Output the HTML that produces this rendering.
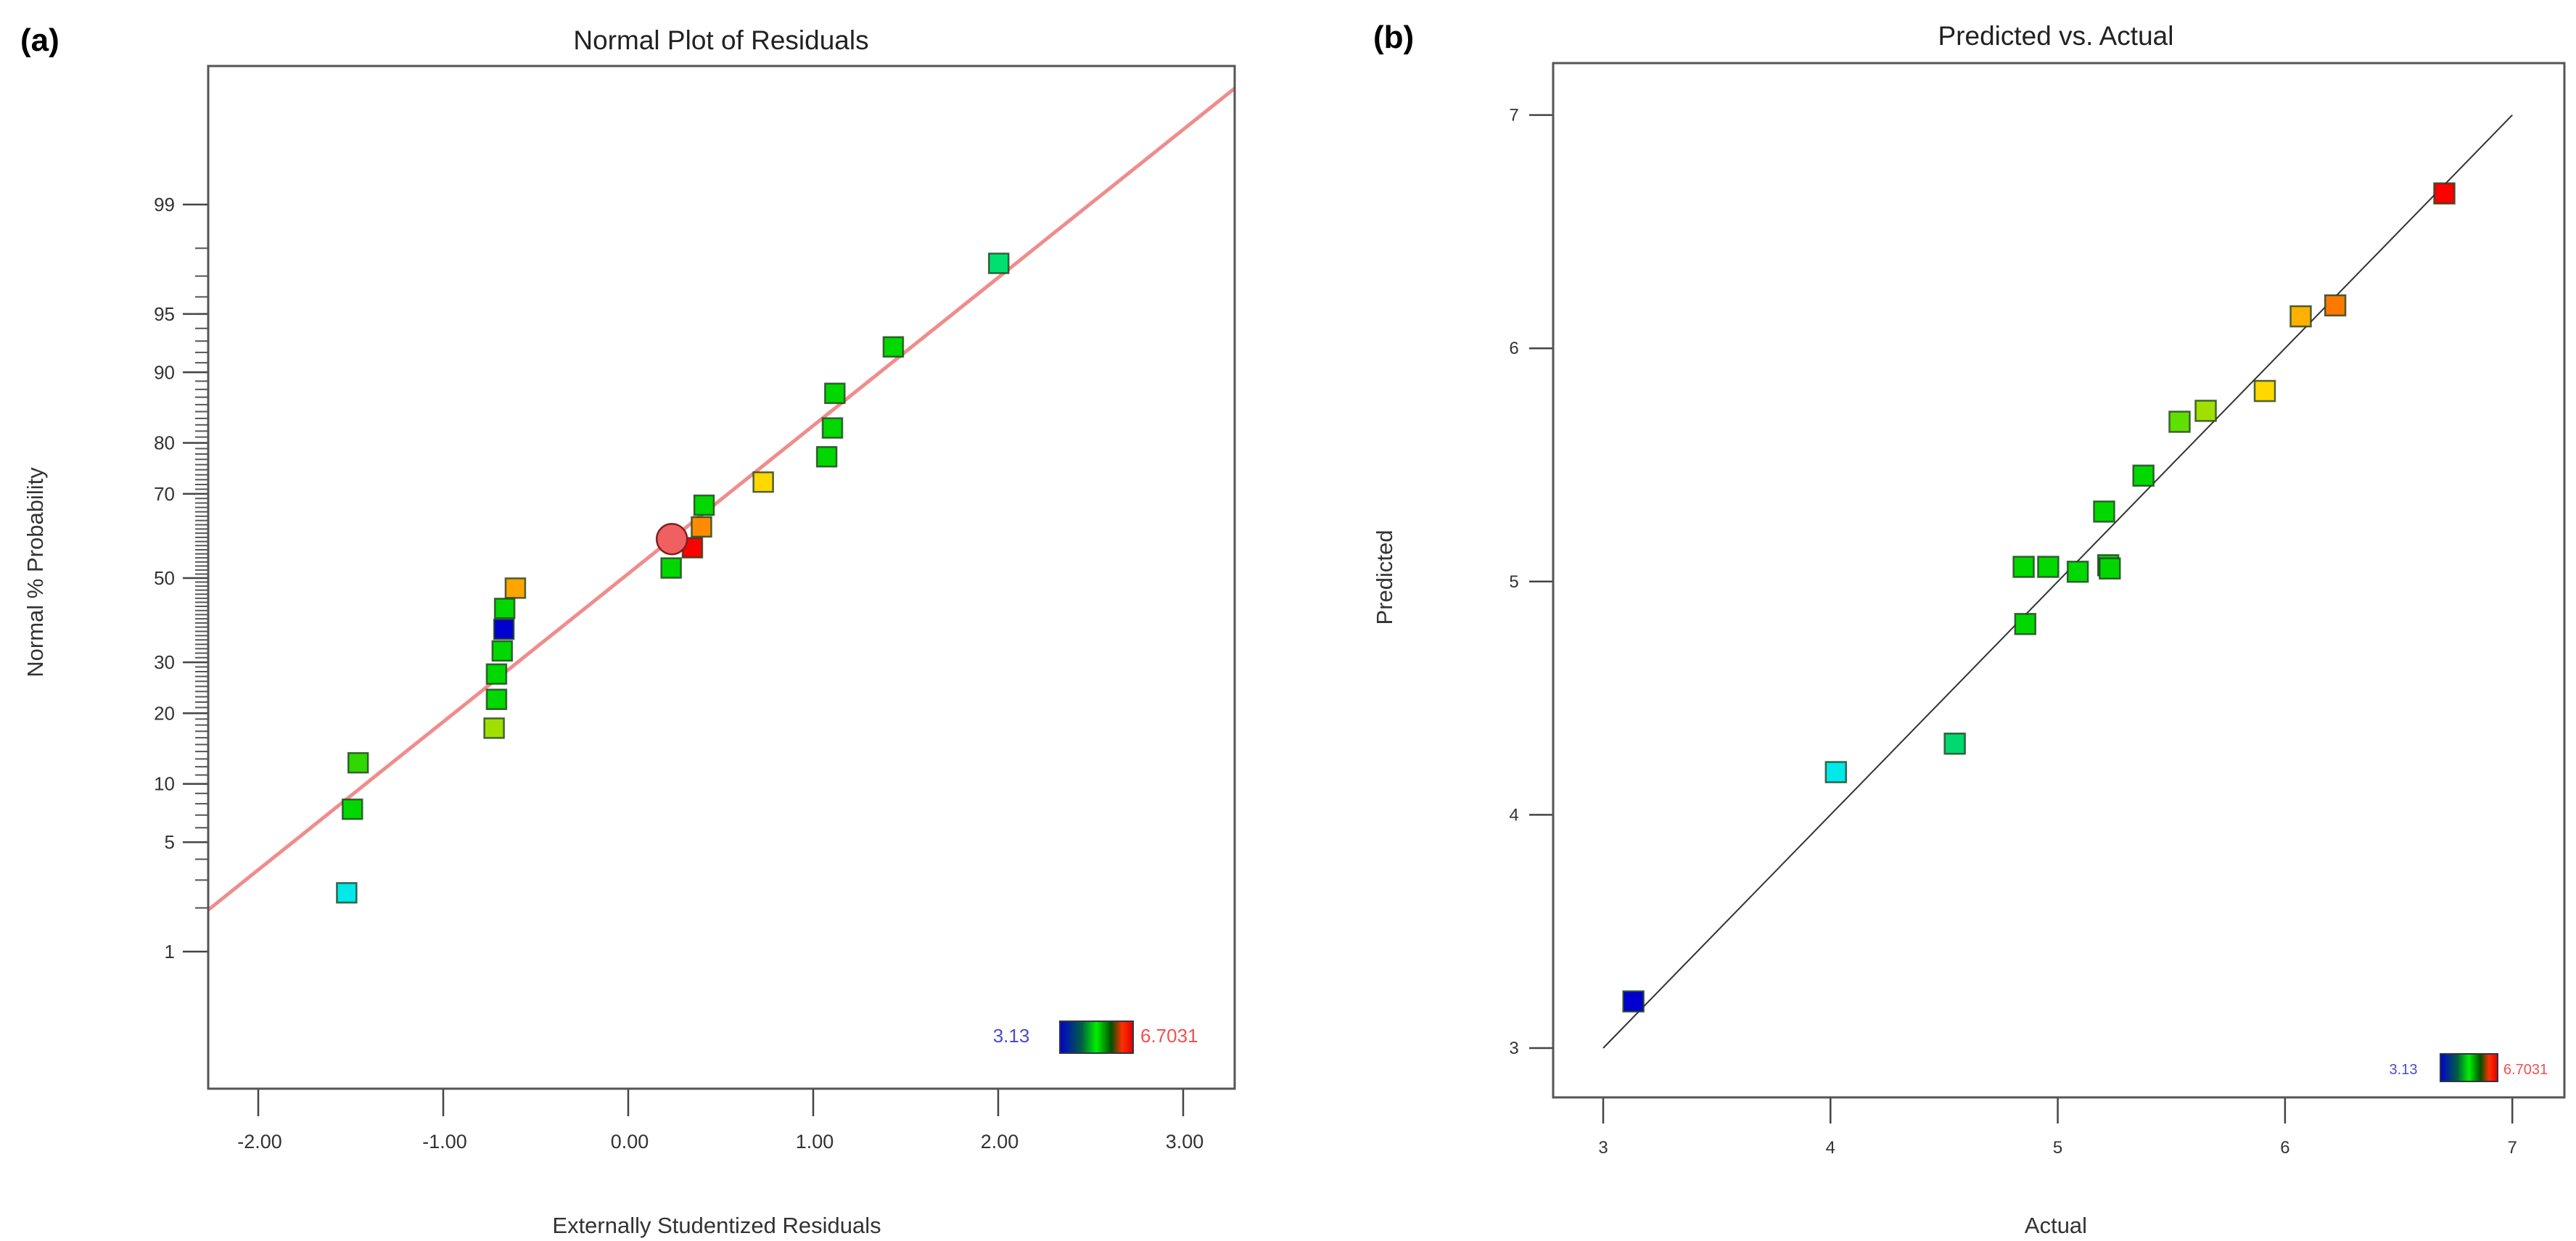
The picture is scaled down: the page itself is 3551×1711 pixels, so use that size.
<!DOCTYPE html>
<html><head><meta charset="utf-8"><style>
html,body{margin:0;padding:0;background:#fff;}
svg{display:block;font-family:"Liberation Sans","DejaVu Sans",sans-serif;}
</style></head><body>
<svg id="chart" width="3551" height="1711" viewBox="0 0 3551 1711" xmlns="http://www.w3.org/2000/svg">
<defs>
<linearGradient id="cbar" x1="0" x2="1" y1="0" y2="0">
<stop offset="0" stop-color="#0000d0"/><stop offset="0.3" stop-color="#006040"/><stop offset="0.5" stop-color="#00f000"/><stop offset="0.7" stop-color="#005000"/><stop offset="0.85" stop-color="#ff3000"/><stop offset="1" stop-color="#e00000"/>
</linearGradient>
</defs>
<g id="pa"></g>
<g id="pb"></g>
</svg>
<script>
// ---- Panel (a) data ----
const residX = [2.003,1.433,1.117,1.104,1.073,0.730,0.410,0.396,0.347,0.232,-0.610,-0.668,-0.672,-0.681,-0.712,-0.712,-0.725,-1.460,-1.491,-1.522];
const residP = [97.5,92.5,87.5,82.5,77.5,72.5,67.5,62.5,57.5,52.5,47.5,42.5,37.5,32.5,27.5,22.5,17.5,12.5,7.5,2.5];
const residColor = ["#00e070","#00d800","#00d800","#00d800","#00d800","#ffd800","#00d800","#ff8c00","#ff0000","#00d800","#ffa500","#00d800","#0000d0","#00d800","#00d800","#00d800","#a0e000","#30d800","#00d800","#00e8e8"];
const circleX = [0.236];
const circleP = [59.6];
const xTicksA = [-2,-1,0,1,2,3];
const xTickLabelsA = ["-2.00","-1.00","0.00","1.00","2.00","3.00"];
const yTicksA = [1,5,10,20,30,50,70,80,90,95,99];
const lineSlope = [0.922];
const lineIntercept = [0.027];
// ---- Panel (b) data ----
const actual = [3.133,4.024,4.547,4.857,4.850,4.958,5.088,5.222,5.229,5.204,5.377,5.536,5.651,5.911,6.069,6.221,6.701];
const predicted = [3.20,4.183,4.305,4.818,5.063,5.063,5.042,5.070,5.056,5.30,5.454,5.685,5.732,5.817,6.137,6.184,6.664];
const predColor = ["#0000d0","#00e8e8","#00d870","#00d800","#00d800","#00d800","#00d800","#00d800","#00d800","#00d800","#00d800","#60e000","#a0e000","#ffd800","#ffb000","#ff7800","#ff0000"];
const xTicksB = [3,4,5,6,7];
const yTicksB = [3,4,5,6,7];
const legendMin = ["3.13"], legendMax = ["6.7031"];

const NS="http://www.w3.org/2000/svg";
function mk(parent,tag,attrs,text){const e=document.createElementNS(NS,tag);for(const k in attrs)e.setAttribute(k,attrs[k]);if(text!==undefined)e.textContent=text;parent.appendChild(e);return e;}
function probit(p){ // inverse normal CDF (Acklam)
 const a=[-39.69683028665376,220.9460984245205,-275.9285104469687,138.3577518672690,-30.66479806614716,2.506628277459239];
 const b=[-54.47609879822406,161.5858368580409,-155.6989798598866,66.80131188771972,-13.28068155288572];
 const c=[-0.007784894002430293,-0.3223964580411365,-2.400758277161838,-2.549732539343734,4.374664141464968,2.938163982698783];
 const d=[0.007784695709041462,0.3224671290700398,2.445134137142996,3.754408661907416];
 const pl=0.02425;let q,r;
 if(p<pl){q=Math.sqrt(-2*Math.log(p));return (((((c[0]*q+c[1])*q+c[2])*q+c[3])*q+c[4])*q+c[5])/((((d[0]*q+d[1])*q+d[2])*q+d[3])*q+1);}
 if(p>1-pl){q=Math.sqrt(-2*Math.log(1-p));return -(((((c[0]*q+c[1])*q+c[2])*q+c[3])*q+c[4])*q+c[5])/((((d[0]*q+d[1])*q+d[2])*q+d[3])*q+1);}
 q=p-0.5;r=q*q;return (((((a[0]*r+a[1])*r+a[2])*r+a[3])*r+a[4])*r+a[5])*q/(((((b[0]*r+b[1])*r+b[2])*r+b[3])*r+b[4])*r+1);
}
// ===== Panel A =====
const A={L:287,R:1702,T:91,B:1501};
const xA=v=>866+v*255;
const zA=z=>797-z*221.4;
const yA=p=>zA(probit(p/100));
const ga=document.getElementById('pa');
let t;
t=mk(ga,'text',{x:28,y:70,'font-size':44,'font-weight':'bold',fill:'#000'},'(a)');


t=mk(ga,'text',{x:994,y:68,'font-size':37,'text-anchor':'middle',fill:'#222'},'Normal Plot of Residuals');


// clip
mk(mk(ga,'clipPath',{id:'clipA'}),'rect',{x:A.L,y:A.T,width:A.R-A.L,height:A.B-A.T});
// minor y ticks
for(let p=1;p<=99;p++){
 t=mk(ga,'line',{x1:269,x2:A.L,y1:yA(p),y2:yA(p),stroke:'#555','stroke-width':2});
 
 
}
yTicksA.forEach(p=>{
 t=mk(ga,'line',{x1:252,x2:A.L,y1:yA(p),y2:yA(p),stroke:'#444','stroke-width':2.5});
 
 
 t=mk(ga,'text',{x:241,y:yA(p)+9,'font-size':26,'text-anchor':'end',fill:'#333'},String(p));
 
 
});
xTicksA.forEach((v,i)=>{
 t=mk(ga,'line',{x1:xA(v),x2:xA(v),y1:A.B,y2:A.B+38,stroke:'#444','stroke-width':2.5});
 
 
 t=mk(ga,'text',{x:xA(v)+2,y:A.B+82,'font-size':27,'text-anchor':'middle',fill:'#333'},xTickLabelsA[i]);
 
 
});
// fit line
const lg=mk(ga,'g',{'clip-path':'url(#clipA)'});
const xl0=(A.L-866)/255, xl1=(A.R-866)/255;
t=mk(lg,'line',{x1:A.L,y1:zA(lineSlope[0]*xl0+lineIntercept[0]),x2:A.R,y2:zA(lineSlope[0]*xl1+lineIntercept[0]),stroke:'#f08c8c','stroke-width':5});


residX.forEach((v,i)=>{
 const s=27;
 t=mk(ga,'rect',{x:xA(v)-s/2,y:yA(residP[i])-s/2,width:s,height:s,fill:residColor[i],stroke:'#204020','stroke-width':2.5,'stroke-opacity':0.8});
 
 
});
circleX.forEach((v,i)=>{
 t=mk(ga,'circle',{cx:xA(v),cy:yA(circleP[i]),r:21,fill:'#f06060',stroke:'#802020','stroke-width':2.5});
 
 
});
t=mk(ga,'rect',{x:A.L,y:A.T,width:A.R-A.L,height:A.B-A.T,fill:'none',stroke:'#555','stroke-width':3});


t=mk(ga,'text',{x:1394,y:1437,'font-size':26,'text-anchor':'middle',fill:'#4a4ad0'},legendMin[0]);


t=mk(ga,'rect',{x:1461,y:1408,width:101,height:44,fill:'url(#cbar)',stroke:'#334','stroke-width':2});


t=mk(ga,'text',{x:1572,y:1437,'font-size':26,fill:'#f05050'},legendMax[0]);


t=mk(ga,'text',{x:48,y:789,'font-size':31,'text-anchor':'middle',fill:'#333',transform:'rotate(-90 48 789)',dy:'0.35em'},'Normal % Probability');


t=mk(ga,'text',{x:988,y:1700,'font-size':31,'text-anchor':'middle',fill:'#333'},'Externally Studentized Residuals');



// ===== Panel B =====
const Bx={L:2141,R:3535,T:87,B:1513};
const xB=v=>2210+(v-3)*313.3;
const yB=v=>1445-(v-3)*321.6;
const gb=document.getElementById('pb');
t=mk(gb,'text',{x:1893,y:66,'font-size':44,'font-weight':'bold',fill:'#000'},'(b)');


t=mk(gb,'text',{x:2834,y:62,'font-size':37,'text-anchor':'middle',fill:'#222'},'Predicted vs. Actual');


yTicksB.forEach(v=>{
 t=mk(gb,'line',{x1:2108,x2:Bx.L,y1:yB(v),y2:yB(v),stroke:'#444','stroke-width':2.5});
 
 
 t=mk(gb,'text',{x:2087,y:yB(v)+8,'font-size':24,'text-anchor':'middle',fill:'#333'},String(v));
 
 
});
xTicksB.forEach(v=>{
 t=mk(gb,'line',{x1:xB(v),x2:xB(v),y1:Bx.B,y2:Bx.B+36,stroke:'#444','stroke-width':2.5});
 
 
 t=mk(gb,'text',{x:xB(v),y:1590,'font-size':24,'text-anchor':'middle',fill:'#333'},String(v));
 
 
});
t=mk(gb,'line',{x1:xB(3),y1:yB(3),x2:xB(7),y2:yB(7),stroke:'#333','stroke-width':2});


actual.forEach((v,i)=>{
 const s=28;
 t=mk(gb,'rect',{x:xB(v)-s/2,y:yB(predicted[i])-s/2,width:s,height:s,fill:predColor[i],stroke:'#204020','stroke-width':2.5,'stroke-opacity':0.8});
 
 
});
t=mk(gb,'rect',{x:Bx.L,y:Bx.T,width:Bx.R-Bx.L,height:Bx.B-Bx.T,fill:'none',stroke:'#555','stroke-width':3});


t=mk(gb,'text',{x:3313,y:1481,'font-size':20,'text-anchor':'middle',fill:'#4a4ad0'},legendMin[0]);


t=mk(gb,'rect',{x:3364,y:1453,width:79,height:38,fill:'url(#cbar)',stroke:'#334','stroke-width':2});


t=mk(gb,'text',{x:3451,y:1481,'font-size':20,fill:'#f05050'},legendMax[0]);


t=mk(gb,'text',{x:1908,y:796,'font-size':31,'text-anchor':'middle',fill:'#333',transform:'rotate(-90 1908 796)',dy:'0.35em'},'Predicted');


t=mk(gb,'text',{x:2834,y:1700,'font-size':31,'text-anchor':'middle',fill:'#333'},'Actual');


</script>
</body></html>
